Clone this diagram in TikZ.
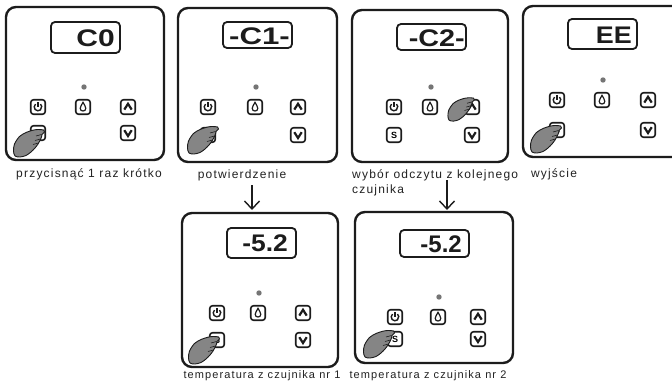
\documentclass[tikz,border=0pt]{standalone}
\usepackage{fontspec}
\setmainfont{Liberation Sans}
\newfontfamily\capfont[LetterSpace=10]{Liberation Sans}
\usetikzlibrary{arrows.meta}

\definecolor{ink}{HTML}{1C1C1C}
\definecolor{captxt}{HTML}{222222}
\definecolor{handfill}{HTML}{858585}
\definecolor{led}{HTML}{757575}

\tikzset{
  panelbox/.style={draw=ink, line width=2.4pt, rounded corners=10pt, fill=white, inner sep=0pt, outer sep=0pt},
  dispbox/.style={draw=ink, line width=1.8pt, rounded corners=4pt},
  keybox/.style={draw=ink, line width=1.6pt, rounded corners=2.8pt, minimum size=14.5pt, inner sep=0pt, fill=white},
  iconline/.style={draw=ink, line width=1.4pt},
  chevron/.style={draw=ink, line width=2.2pt, line join=miter},
  readout/.style={anchor=east, inner sep=0pt, text=ink, font=\bfseries\fontsize{24}{24}\selectfont},
  caption/.style={inner sep=0pt, text=captxt, font=\capfont\fontsize{12}{15}\selectfont},
  smallcaption/.style={caption, font=\capfont\fontsize{11}{13}\selectfont},
  flowarrow/.style={draw=ink, line width=1.4pt, -{Straight Barb[length=8pt,width=15pt]}},
  handshape/.style={fill=handfill, draw=ink, line width=0.9pt},
}

% split "left col, middle col, right col, upper row, lower row"
\def\gridsplit#1,#2,#3,#4,#5\relax{\def\colL{#1}\def\colM{#2}\def\colR{#3}\def\rowA{#4}\def\rowB{#5}}

% controller front: name, left, top, width, height, display top, display bottom, key grid
\newcommand\devpanel[8]{%
  \gridsplit#8\relax
  \begin{scope}[shift={(#2,#3)}]
    \node[panelbox, anchor=north west, minimum width=#4pt, minimum height=#5pt] (#1) at (0,0) {};
    \draw[dispbox] (45,#6) rectangle (114,#7);
    \fill[led] (\colM+1,\rowA-20) circle (2.7pt);
    \node[keybox] (#1-pw) at (\colL,\rowA) {};
    \node[keybox] (#1-drop) at (\colM,\rowA) {};
    \node[keybox] (#1-up) at (\colR,\rowA) {};
    \node[keybox, font=\bfseries\fontsize{9}{9}\selectfont] (#1-s) at (\colL,\rowB) {S};
    \node[keybox] (#1-down) at (\colR,\rowB) {};
    % power symbol
    \begin{scope}[shift={(\colL,\rowA)}]
      \draw[iconline] (130:3.8pt) arc[start angle=130, end angle=410, radius=3.8pt];
      \draw[iconline] (0pt,4.8pt) -- (0pt,0.2pt);
    \end{scope}
    % drop
    \begin{scope}[shift={(\colM,\rowA)}]
      \draw[iconline, line width=1.2pt] (0pt,4.6pt) .. controls (0.9pt,2.8pt) and (2.8pt,0.6pt) .. (2.8pt,-1.4pt)
        .. controls (2.8pt,-3.2pt) and (1.5pt,-4pt) .. (0pt,-4pt)
        .. controls (-1.5pt,-4pt) and (-2.8pt,-3.2pt) .. (-2.8pt,-1.4pt)
        .. controls (-2.8pt,0.6pt) and (-0.9pt,2.8pt) .. cycle;
    \end{scope}
    % up and down
    \begin{scope}[shift={(\colR,\rowA)}]
      \draw[chevron] (-3.7pt,-2.6pt) -- (0pt,3.2pt) -- (3.7pt,-2.6pt);
    \end{scope}
    \begin{scope}[shift={(\colR,\rowB)}]
      \draw[chevron] (-3.7pt,2.8pt) -- (0pt,-3pt) -- (3.7pt,2.8pt);
    \end{scope}
  \end{scope}}

% pointing hand, fingertip at (x,y)
\newcommand\presshand[3]{%
  \begin{scope}[shift={(#1,#2)}, scale=#3]
    \draw[handshape] plot[smooth cycle, tension=0.5] coordinates {
      (0.6pt,1pt) (1.5pt,-1pt) (-1pt,-3.5pt) (-1.5pt,-6pt) (-3pt,-9.5pt) (-5pt,-13pt)
      (-8pt,-17pt) (-12pt,-21pt) (-17pt,-24.5pt) (-23pt,-26pt) (-28pt,-25pt) (-29.5pt,-20pt)
      (-28.5pt,-13pt) (-23.5pt,-5.5pt) (-17pt,-1.5pt) (-10pt,0.8pt) (-5pt,1.5pt)};
    \draw[ink, line width=0.6pt] (-1.5pt,-3.5pt) -- (-7pt,-5pt);
    \draw[ink, line width=0.6pt] (-2.5pt,-8pt) -- (-8pt,-9.5pt);
    \draw[ink, line width=0.6pt] (-4.5pt,-12pt) -- (-10pt,-13.5pt);
  \end{scope}}

\begin{document}
\begin{tikzpicture}[x=1pt, y=-1pt]
  \useasboundingbox (0,0) rectangle (672,385);
  \clip (0,0) rectangle (672,385);
  \fill[white] (0,0) rectangle (672,385);

  % upper row
  \devpanel{p1}{6}{7}{158}{153}{15}{46}{32,77,122,100,126}
  \node[readout] (p1-read) at (115,38.5) {\scalebox{1.25}[1]{C0}};
  \devpanel{p2}{178}{8}{159}{154}{14}{40}{30,77,120,99,127}
  \node[readout] (p2-read) at (290,36) {\scalebox{1.3}[1]{-C1-}};
  \devpanel{p3}{352}{10}{156}{152}{14}{40}{42,78,120,97,125}
  \node[readout] (p3-read) at (465,38) {\scalebox{1.2}[1]{-C2-}};
  \devpanel{p4}{523}{6}{170}{151}{13}{43}{34,79,125,94,124}
  \node[readout] (p4-read) at (632,35) {\scalebox{1.12}[1]{EE}};

  % lower row
  \devpanel{p5}{182}{213}{156}{154}{15}{45}{35,76,121,100,127}
  \node[readout] (p5-read) at (288,243) {\scalebox{1.1}[1]{-5.2}};
  \devpanel{p6}{355}{212}{158}{151}{18}{45}{40,83,123,105,127}
  \node[readout] (p6-read) at (462,244) {\scalebox{1.0}[1]{-5.2}};

  % hands pressing keys
  \presshand{43}{131}{1}
  \presshand{217}{128}{1}
  \presshand{473}{99}{0.85}
  \presshand{560}{127}{1}
  \presshand{218}{338}{1}
  \presshand{393}{332}{1}

  % captions
  \node[caption] (cap1) at (89,174) {przycisnąć 1 raz krótko};
  \node[caption] (cap2) at (242,175) {potwierdzenie};
  \node[caption, anchor=west, align=left] (cap3) at (352,182.5) {wybór odczytu z kolejnego\\czujnika};
  \node[caption] (cap4) at (554,174) {wyjście};
  \node[smallcaption] (cap5) at (262,376) {temperatura z czujnika nr 1};
  \node[smallcaption] (cap6) at (428,376) {temperatura z czujnika nr 2};

  % flow arrows
  \coordinate (a1top) at (252,185);
  \coordinate (a2top) at (447,180);
  \draw[flowarrow, shorten >=3pt] (a1top) -- (a1top |- p5.north);
  \draw[flowarrow, shorten >=2pt] (a2top) -- (a2top |- p6.north);
\end{tikzpicture}
\end{document}
